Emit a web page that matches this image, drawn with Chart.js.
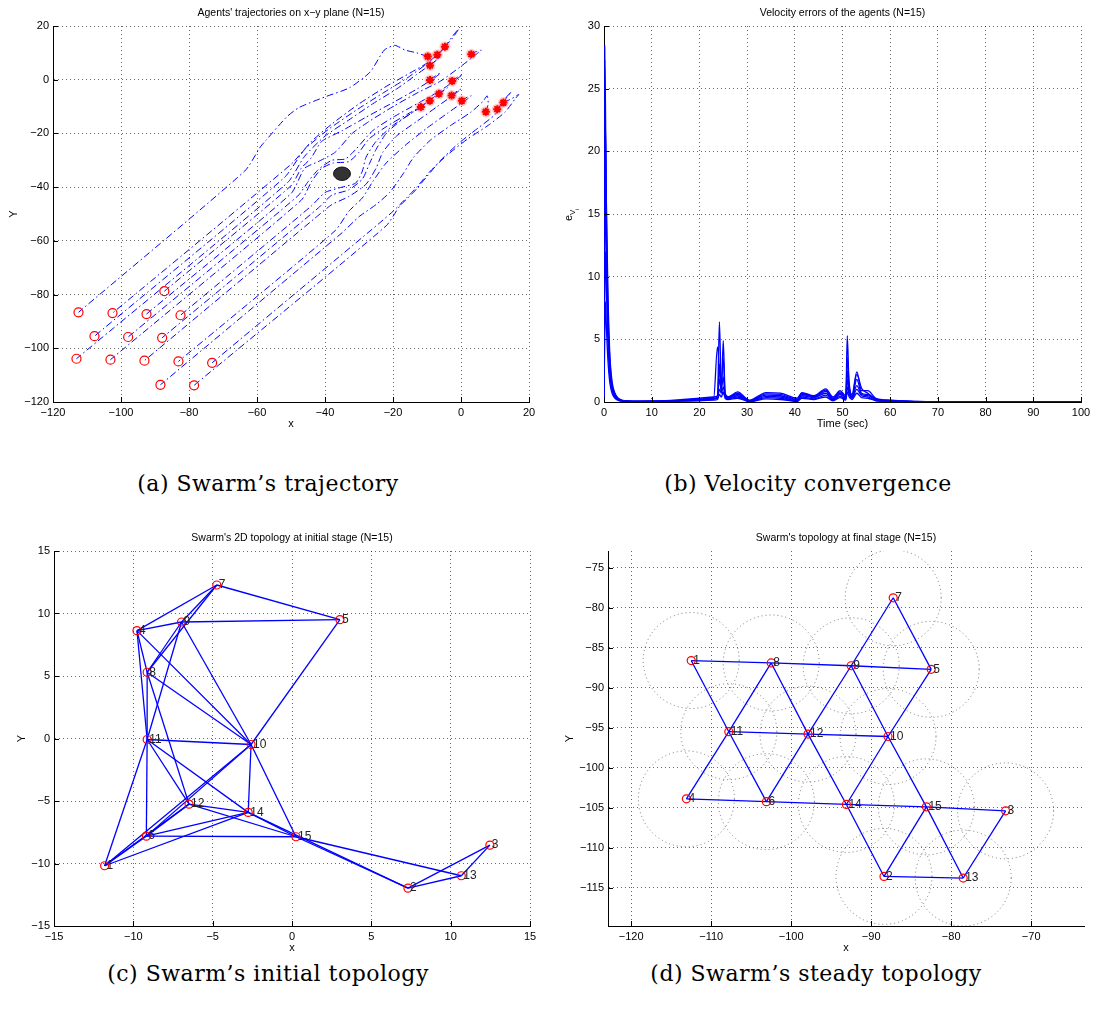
<!DOCTYPE html>
<html>
<head>
<meta charset="utf-8">
<title>Swarm figures</title>
<script src="https://cdn.jsdelivr.net/npm/chart.js@4.4.1/dist/chart.umd.min.js"></script>
<style>
  html, body { margin: 0; padding: 0; background: #fff; }
  body { position: relative; width: 1096px; height: 1026px; overflow: hidden; }
  canvas { position: absolute; }
  .caption { position: absolute; font-family: "DejaVu Serif", serif; font-size: 22px; letter-spacing: 0.5px; color: #000; white-space: nowrap; transform: translate(-50%, -50%); }
</style>
</head>
<body>
<canvas id="traj" width="548" height="460" style="left:0;top:0"></canvas>
<canvas id="vel" width="548" height="460" style="left:548px;top:0"></canvas>
<canvas id="topoInit" width="548" height="460" style="left:0;top:500px"></canvas>
<canvas id="topoFinal" width="548" height="460" style="left:548px;top:500px"></canvas>
<div class="caption" style="left:268px;top:483px">(a) Swarm’s trajectory</div>
<div class="caption" style="left:808px;top:483px">(b) Velocity convergence</div>
<div class="caption" style="left:268px;top:973px">(c) Swarm’s initial topology</div>
<div class="caption" style="left:816px;top:973px">(d) Swarm’s steady topology</div>
<script>
// agent positions, index 0 = agent 1
const initX = [-11.81, 7.31, 12.47, -9.77, 3.02, -9.18, -4.74, -9.13, -6.96, -2.58, -9.13, -6.49, 10.67, -2.76, 0.25];
const initY = [-10.18, -11.97, -8.53, 8.63, 9.51, -7.81, 12.28, 5.30, 9.32, -0.48, -0.08, -5.25, -10.98, -5.91, -7.86];
const finalX = [-112.5, -88.4, -73.2, -113.1, -82.5, -103.1, -87.25, -102.5, -92.5, -87.9, -107.8, -97.9, -78.5, -93.1, -83.1];
const finalY = [-86.6, -113.6, -105.4, -103.9, -87.7, -104.25, -78.75, -86.9, -87.25, -96.1, -95.5, -95.8, -113.8, -104.6, -104.9];

// neighbour links (agent numbers)
const edgesInit = [[7,4],[7,9],[7,8],[7,5],[9,4],[9,5],[9,8],[9,10],[9,11],[4,8],[4,11],[4,10],[8,10],[8,12],[8,11],
  [11,10],[11,12],[11,14],[11,6],[11,1],[10,5],[10,14],[10,15],[10,6],[10,1],[12,14],[12,15],[12,6],[12,1],
  [14,6],[14,1],[14,15],[14,2],[6,15],[6,1],[15,2],[15,13],[2,13],[2,3],[13,3]];
const edgesFinal = [[1,8],[8,9],[9,5],[7,9],[7,5],[1,11],[8,11],[8,12],[9,12],[9,10],[5,10],[11,12],[12,10],[11,4],
  [11,6],[12,6],[12,14],[10,14],[10,15],[4,6],[6,14],[14,15],[15,3],[14,2],[15,2],[15,13],[3,13],[2,13]];

const sensingRadius = 6;
const obstacle = { x: -35, y: -35, r: 2.5 };

// trajectories, start -> end
const agentPaths = [
  [[-9.8,8.6],[-13,10],[-16.4,11],[-19.5,12.8],[-22.6,11],[-26.7,2.9],[-32.8,-3],[-40,-6.4],[-47.7,-10.4],[-51.3,-13.9],[-57.4,-22.6],[-59,-25],[-63.6,-34],[-112.5,-86.6]],
  [[-4.7,12.3],[-2.5,15.5],[-0.3,19.6],[-2,17],[-5,12],[-9,7],[-15,2.5],[-22,-2.5],[-30,-9],[-38,-16.5],[-44,-23],[-50,-31.5],[-102.5,-86.9]],
  [[-7,9.3],[-5.5,11],[-4,12.5],[-6,10.5],[-10,6],[-16,0.5],[-23,-5],[-31,-11.5],[-39,-18.5],[-46,-26],[-52,-36.5],[-107.8,-95.5]],
  [[-9.1,5.3],[-7.5,7],[-6.5,8],[-8.5,6],[-13,2],[-19,-3.5],[-26,-9],[-33,-15],[-40,-21],[-46,-28.5],[-51,-38.3],[-113.1,-103.9]],
  [[-9.1,-0.1],[-7.5,1.5],[-6,2.5],[-8,0.5],[-13,-3.5],[-20,-8.5],[-28,-14],[-35,-19],[-41,-23],[-44,-29],[-47,-33],[-50,-39.5],[-87.25,-78.75]],
  [[3,9.5],[4.5,10.5],[6,11],[4.5,9.5],[0,5],[-6,-0.5],[-13,-5],[-20,-10],[-27,-15.5],[-32,-20],[-37,-27],[-42,-30.5],[-46,-33],[-50,-42.4],[-92.5,-87.25]],
  [[-2.6,-0.5],[-1,1],[0.5,2],[-1.5,0],[-6,-4],[-13,-9],[-20,-14],[-26,-19],[-31,-26],[-34,-29.5],[-38,-30],[-42,-33.5],[-45,-38],[-48,-43.3],[-97.9,-95.8]],
  [[-11.8,-10.2],[-10.5,-8.8],[-9.5,-8],[-11.5,-9.8],[-16,-13],[-22,-17.5],[-27,-22],[-30,-27],[-33,-30.5],[-37.5,-31],[-41,-33],[-44,-38],[-47,-44.9],[-103.1,-104.25]],
  [[-9.2,-7.8],[-8,-6.5],[-7,-5.5],[-9,-7.5],[-14,-12],[-20,-17],[-25,-23],[-28,-29],[-29,-34],[-31,-38.5],[-35,-40],[-40,-42],[-44,-47],[-82.5,-87.7]],
  [[-6.5,-5.3],[-5,-3.8],[-4,-3],[-6,-5],[-11,-9.5],[-17,-14.5],[-22,-20],[-25,-26],[-27,-31.5],[-29,-37],[-33,-41],[-38,-43],[-42,-47.8],[-87.9,-96.1]],
  [[-2.8,-5.9],[-1.2,-4.3],[0,-3.5],[-2,-5.5],[-7,-10],[-13,-15.5],[-19,-21],[-23,-27],[-25,-33],[-28,-39],[-33,-43.5],[-38,-46.5],[-43,-51.6],[-93.1,-104.6]],
  [[0.25,-7.9],[1.8,-6.5],[3,-6],[1,-8],[-4,-12.5],[-10,-18],[-16,-24],[-22,-31],[-26,-38],[-29,-44],[-33,-49],[-37,-56.2],[-83.1,-104.9]],
  [[7.3,-12],[8,-9],[7.7,-6],[6.5,-8],[3,-12],[-3,-17],[-9,-22.5],[-14,-29],[-17,-35],[-21,-42],[-25,-46.5],[-30,-51],[-35,-57],[-88.4,-113.6]],
  [[12.5,-8.5],[15,-7],[17,-5.5],[16,-7],[13,-12],[8,-17],[2,-22],[-4,-28],[-9,-34],[-13,-40],[-16,-44],[-20,-49],[-24,-53.4],[-73.2,-105.4]],
  [[10.7,-11],[13,-7],[14.8,-4.5],[13.5,-6.5],[10,-13],[5,-18],[-1,-24],[-6,-30],[-10,-36],[-14,-42],[-18,-47],[-22,-54.4],[-78.5,-113.8]]
];

// velocity errors (panel b)
const timeSec = [0, 0.15, 0.3, 0.5, 0.8, 1.2, 1.7, 2.3, 3, 4, 6, 10, 15, 20, 23, 23.8, 24.2, 24.6, 25, 25.4, 26, 28, 30.5, 34, 37, 40.5, 41.5, 44, 46.5, 48, 49.5, 50.7, 51, 51.4, 52, 53, 54, 55.3, 57, 60, 65, 70, 100];
const errA = [0.3, 28.4, 21, 13, 7, 3, 1.2, 0.5, 0.2, 0.1, 0.06, 0.08, 0.15, 0.3, 0.4, 0.5, 6.4, 0.9, 0.7, 0.5, 0.4, 0.8, 0.15, 0.75, 0.7, 0.3, 0.75, 0.5, 1.05, 0.4, 0.9, 0.5, 5.3, 1.2, 0.6, 2.4, 0.9, 0.9, 0.3, 0.15, 0.05, 0.01, 0];
const errB = [0.6, 27.3, 24, 15, 8, 3.5, 1.4, 0.6, 0.25, 0.1, 0.05, 0.06, 0.12, 0.25, 0.35, 4.4, 2.5, 0.8, 4.9, 0.7, 0.4, 0.7, 0.1, 0.65, 0.6, 0.2, 0.7, 0.45, 0.95, 0.3, 0.8, 0.4, 3.5, 1.5, 0.5, 2.2, 1.1, 0.7, 0.25, 0.12, 0.04, 0.01, 0];
const errC = [1.2, 18, 22, 16, 9.2, 4, 1.6, 0.7, 0.3, 0.12, 0.05, 0.05, 0.1, 0.2, 0.3, 0.4, 3, 1.5, 3.5, 0.6, 0.35, 0.6, 0.08, 0.55, 0.5, 0.15, 0.6, 0.4, 0.85, 0.25, 0.7, 0.35, 2.5, 1, 0.4, 1.8, 0.7, 0.6, 0.2, 0.1, 0.03, 0, 0];
const errD = [0.2, 12, 17, 12, 6.5, 2.8, 1.1, 0.5, 0.2, 0.09, 0.05, 0.05, 0.09, 0.18, 0.28, 0.35, 1.8, 1, 2, 0.5, 0.3, 0.5, 0.05, 0.45, 0.4, 0.1, 0.5, 0.35, 0.7, 0.2, 0.6, 0.3, 1.8, 0.8, 0.35, 1.3, 0.6, 0.5, 0.18, 0.08, 0.02, 0, 0];
const errE = [2, 9, 12, 9, 5, 2.2, 0.9, 0.4, 0.15, 0.07, 0.04, 0.04, 0.08, 0.15, 0.22, 0.3, 1, 0.7, 1.2, 0.4, 0.25, 0.4, 0.04, 0.35, 0.3, 0.06, 0.4, 0.25, 0.55, 0.15, 0.45, 0.25, 1.2, 0.6, 0.3, 1, 0.5, 0.4, 0.12, 0.06, 0.02, 0, 0];
const errF = [0.4, 5, 8, 6, 3.5, 1.6, 0.7, 0.3, 0.12, 0.06, 0.03, 0.03, 0.06, 0.1, 0.15, 0.2, 0.6, 0.4, 0.8, 0.3, 0.2, 0.3, 0.02, 0.25, 0.2, 0.04, 0.3, 0.2, 0.4, 0.1, 0.35, 0.15, 0.8, 0.4, 0.2, 0.7, 0.35, 0.3, 0.1, 0.04, 0.01, 0, 0];

// tick labels
const ticksTraj = [-120, -100, -80, -60, -40, -20, 0, 20];
const ticksTime = [0, 10, 20, 30, 40, 50, 60, 70, 80, 90, 100];
const ticksErr = [0, 5, 10, 15, 20, 25, 30];
const ticksInit = [-15, -10, -5, 0, 5, 10, 15];
const ticksFinalX = [-120, -110, -100, -90, -80, -70];
const ticksFinalY = [-115, -110, -105, -100, -95, -90, -85, -80, -75];

const BLUE = '#0000ff';
const RED = '#ff0000';
const FONT = '"Liberation Sans", Arial, sans-serif';

Chart.defaults.font.family = FONT;
Chart.defaults.color = '#000';

const minus = v => String(v).replace('-', '\u2212');

function axis(min, max, tickValues, size, isX) {
  return {
    type: 'linear', min, max,
    afterBuildTicks: scale => { scale.ticks = tickValues.map(value => ({ value })); },
    afterFit: scale => { if (isX) scale.height = size; else scale.width = size; },
    grid: { color: 'rgba(0,0,0,0.6)', lineWidth: 1, drawTicks: false },
    border: { display: true, color: '#000', width: 1, dash: [1, 3] },
    ticks: { padding: 4, color: '#000', font: { size: 11 }, autoSkip: false, maxRotation: 0, callback: v => minus(v) }
  };
}

const pts = (xs, ys) => xs.map((x, i) => ({ x, y: ys[i] }));

function decor(cfg) {
  return {
    id: 'decor',
    beforeDatasetsDraw(chart) {
      if (!cfg.rings) return;
      const { ctx, chartArea: a, scales: { x, y } } = chart;
      ctx.save();
      ctx.beginPath(); ctx.rect(a.left, a.top, a.width, a.height); ctx.clip();
      ctx.strokeStyle = 'rgba(80,80,80,0.75)';
      ctx.lineWidth = 1;
      ctx.setLineDash([1, 3]);
      cfg.rings.xs.forEach((nx, i) => {
        const ny = cfg.rings.ys[i];
        const cx = x.getPixelForValue(nx), cy = y.getPixelForValue(ny);
        const rx = Math.abs(x.getPixelForValue(nx + cfg.rings.r) - cx);
        const ry = Math.abs(y.getPixelForValue(ny + cfg.rings.r) - cy);
        ctx.beginPath(); ctx.ellipse(cx, cy, rx, ry, 0, 0, Math.PI * 2); ctx.stroke();
      });
      ctx.restore();
    },
    afterDatasetsDraw(chart) {
      const { ctx, scales: { x, y } } = chart;
      ctx.save();
      if (cfg.obstacle) {
        const o = cfg.obstacle;
        const cx = x.getPixelForValue(o.x), cy = y.getPixelForValue(o.y);
        const rx = Math.abs(x.getPixelForValue(o.x + o.r) - cx);
        const ry = Math.abs(y.getPixelForValue(o.y + o.r) - cy);
        ctx.beginPath(); ctx.ellipse(cx, cy, rx, ry, 0, 0, Math.PI * 2);
        ctx.fillStyle = '#333'; ctx.fill();
        ctx.strokeStyle = '#111'; ctx.lineWidth = 1; ctx.stroke();
      }
      if (cfg.labels) {
        ctx.font = '12px ' + FONT;
        ctx.fillStyle = '#222';
        ctx.textAlign = 'left';
        ctx.textBaseline = 'middle';
        cfg.labels.xs.forEach((nx, i) => {
          ctx.fillText(String(i + 1), x.getPixelForValue(nx) + 2, y.getPixelForValue(cfg.labels.ys[i]));
        });
      }
      ctx.restore();
    },
    afterDraw(chart) {
      const { ctx, chartArea: a, scales: { x, y } } = chart;
      ctx.save();
      ctx.strokeStyle = '#000';
      ctx.lineWidth = 1;
      x.ticks.forEach(t => {
        const px = Math.round(x.getPixelForValue(t.value)) + 0.5;
        ctx.beginPath(); ctx.moveTo(px, a.bottom); ctx.lineTo(px, a.bottom - 5); ctx.stroke();
      });
      y.ticks.forEach(t => {
        const py = Math.round(y.getPixelForValue(t.value)) + 0.5;
        ctx.beginPath(); ctx.moveTo(a.left, py); ctx.lineTo(a.left + 5, py); ctx.stroke();
      });
      const cx = (a.left + a.right) / 2;
      ctx.fillStyle = '#000';
      ctx.textAlign = 'center';
      ctx.textBaseline = 'middle';
      ctx.font = '10.5px ' + FONT;
      ctx.fillText(cfg.title, cx, a.top - 12.5);
      ctx.font = '11px ' + FONT;
      ctx.fillText(cfg.xTitle, cx, a.bottom + 21.5);
      ctx.translate(a.left - cfg.yGap, (a.top + a.bottom) / 2);
      ctx.rotate(-Math.PI / 2);
      if (cfg.ySub) {
        ctx.textAlign = 'left';
        ctx.font = '11px ' + FONT;
        ctx.fillText('e', -7, 0);
        ctx.font = '8px ' + FONT;
        ctx.fillText('V', -1, 4);
        ctx.font = '6px ' + FONT;
        ctx.fillText('i', 4, 8);
      } else {
        ctx.fillText(cfg.yTitle, 0, 0);
      }
      ctx.restore();
    }
  };
}

function makeChart(id, datasets, xAxis, yAxis, padding, plugin) {
  return new Chart(document.getElementById(id), {
    type: 'scatter',
    data: { datasets },
    options: {
      responsive: false,
      animation: false,
      devicePixelRatio: 1,
      events: [],
      layout: { padding },
      plugins: { legend: { display: false }, tooltip: { enabled: false } },
      scales: { x: xAxis, y: yAxis }
    },
    plugins: [plugin]
  });
}

const edgeSets = (edges, xs, ys) => edges.map(([a, b]) => ({
  data: [{ x: xs[a - 1], y: ys[a - 1] }, { x: xs[b - 1], y: ys[b - 1] }],
  showLine: true, borderColor: BLUE, borderWidth: 1.3, pointRadius: 0, tension: 0
}));

// (a) trajectories
makeChart('traj', [
  { data: pts(initX, initY), pointStyle: 'star', pointRadius: 4, borderColor: RED, borderWidth: 2, backgroundColor: RED },
  { data: pts(initX, initY), pointStyle: 'circle', pointRadius: 5.5, borderWidth: 0, backgroundColor: 'rgba(255,110,110,0.35)' },
  { data: pts(finalX, finalY), pointStyle: 'circle', pointRadius: 4.5, borderColor: RED, borderWidth: 1.2, backgroundColor: 'rgba(0,0,0,0)' },
  ...agentPaths.map(p => ({
    data: p.map(([x, y]) => ({ x, y })),
    showLine: true, borderColor: BLUE, borderWidth: 1, borderDash: [7, 3, 1.5, 3],
    pointRadius: 0, tension: 0.2
  }))
], axis(-120, 20, ticksTraj, 58, true), axis(-120, 20, ticksTraj, 53, false),
  { left: 0, top: 26, right: 19, bottom: 0 },
  decor({ title: "Agents' trajectories on x\u2212y plane (N=15)", xTitle: 'x', yTitle: 'Y', yGap: 39, obstacle }));

// (b) velocity errors
makeChart('vel', [errA, errB, errC, errD, errE, errF].map(s => ({
  data: pts(timeSec, s), showLine: true, borderColor: BLUE, borderWidth: 1.3,
  pointRadius: 0, cubicInterpolationMode: 'monotone'
})), axis(0, 100, ticksTime, 58, true), axis(0, 30, ticksErr, 56, false),
  { left: 0, top: 26, right: 15, bottom: 0 },
  decor({ title: 'Velocity errors of the agents (N=15)', xTitle: 'Time (sec)', ySub: true, yGap: 35 }));

// (c) initial topology
makeChart('topoInit', [
  { data: pts(initX, initY), pointStyle: 'circle', pointRadius: 4, borderColor: RED, borderWidth: 1.2, backgroundColor: 'rgba(0,0,0,0)' },
  ...edgeSets(edgesInit, initX, initY)
], axis(-15, 15, ticksInit, 34, true), axis(-15, 15, ticksInit, 54, false),
  { left: 0, top: 51, right: 18, bottom: 0 },
  decor({ title: "Swarm's 2D topology at initial stage (N=15)", xTitle: 'x', yTitle: 'Y', yGap: 32, labels: { xs: initX, ys: initY } }));

// (d) final topology
makeChart('topoFinal', [
  { data: pts(finalX, finalY), pointStyle: 'circle', pointRadius: 4, borderColor: RED, borderWidth: 1.2, backgroundColor: 'rgba(0,0,0,0)' },
  ...edgeSets(edgesFinal, finalX, finalY)
], axis(-122.9, -63.4, ticksFinalX, 34, true), axis(-119.8, -72.9, ticksFinalY, 60, false),
  { left: 0, top: 51, right: 12, bottom: 0 },
  decor({ title: "Swarm's topology at final stage (N=15)", xTitle: 'x', yTitle: 'Y', yGap: 38,
    labels: { xs: finalX, ys: finalY }, rings: { xs: finalX, ys: finalY, r: sensingRadius } }));
</script>
</body>
</html>
